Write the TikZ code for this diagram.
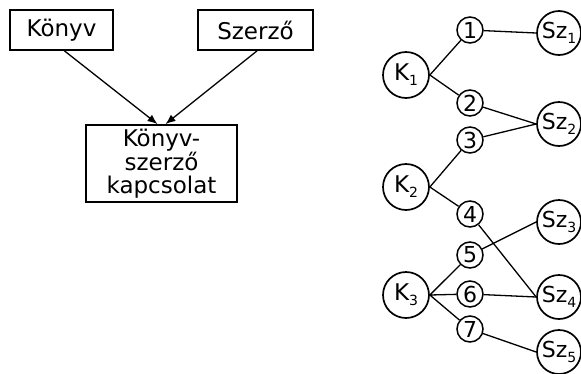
\documentclass[tikz,border=0pt]{standalone}
\usepackage{fontspec}
\setmainfont{DejaVu Sans}
\usetikzlibrary{arrows.meta}

\newcommand{\idx}[1]{\raisebox{-5pt}{\fontsize{14}{14}\selectfont #1}}

\begin{document}
\begin{tikzpicture}[x=1pt, y=-1pt,
          box/.style={draw, line width=1.8pt, inner sep=0pt, align=center, font=\fontsize{23}{23}\selectfont},
          konyv/.style={circle, draw, line width=1.7pt, minimum size=46pt, inner sep=0pt, font=\fontsize{23}{23}\selectfont},
          kapcs/.style={circle, draw, line width=1.5pt, minimum size=26pt, inner sep=0pt, font=\fontsize{22}{22}\selectfont},
          szerzo/.style={circle, draw, line width=1.7pt, minimum size=44pt, inner sep=0pt, font=\fontsize{22}{22}\selectfont},
          el/.style={line width=1.3pt}
        ]
        \useasboundingbox (0,0) rectangle (581,373);

        % entity boxes
        \node[box, minimum width=103pt, minimum height=40pt] (konyv) at (61.5,30) {Könyv};
        \node[box, minimum width=115pt, minimum height=40pt] (szerzo) at (255.5,30) {Szerző};
        \node[box, minimum width=151pt, minimum height=77pt] (ksz) at (161.5,163.5) {Könyv-\\szerző\\kapcsolat};

        \draw[el, -{Latex[length=10pt, width=8pt]}] ([xshift=3pt]konyv.south) -- ([xshift=-4pt]ksz.north);
        \draw[el, -{Latex[length=10pt, width=8pt]}] ([xshift=1.5pt]szerzo.south) -- ([xshift=4pt]ksz.north);

        % books
        \node[konyv] (k1) at (406,75) {K\idx{1}};
        \node[konyv] (k2) at (406,187) {K\idx{2}};
        \node[konyv] (k3) at (406,295) {K\idx{3}};

        % links
        \node[kapcs] (c1) at (470,30) {1};
        \node[kapcs] (c2) at (470,103) {2};
        \node[kapcs] (c3) at (470,140) {3};
        \node[kapcs] (c4) at (470,214) {4};
        \node[kapcs] (c5) at (470,255) {5};
        \node[kapcs] (c6) at (470,294) {6};
        \node[kapcs] (c7) at (470,329) {7};

        % authors
        \node[szerzo] (s1) at (559,33) {Sz\idx{1}};
        \node[szerzo] (s2) at (559,124) {Sz\idx{2}};
        \node[szerzo] (s3) at (559,222) {Sz\idx{3}};
        \node[szerzo] (s4) at (559,297) {Sz\idx{4}};
        \node[szerzo] (s5) at (559,352) {Sz\idx{5}};

        \draw[el] (k1.east) -- (c1) (k1.east) -- (c2);
        \draw[el] (k2.east) -- (c3) (k2.east) -- (c4);
        \draw[el] (k3.east) -- (c5) (k3.east) -- (c6) (k3.east) -- (c7);

        \draw[el] (c1) -- (s1.west);
        \draw[el] (c2) -- (s2.west) (c3) -- (s2.west);
        \draw[el] (c4) -- (s4.west);
        \draw[el] (c5) -- (s3.west);
        \draw[el] (c6) -- (s4.west);
        \draw[el] (c7) -- (s5.west);

        \end{tikzpicture}
\end{document}
